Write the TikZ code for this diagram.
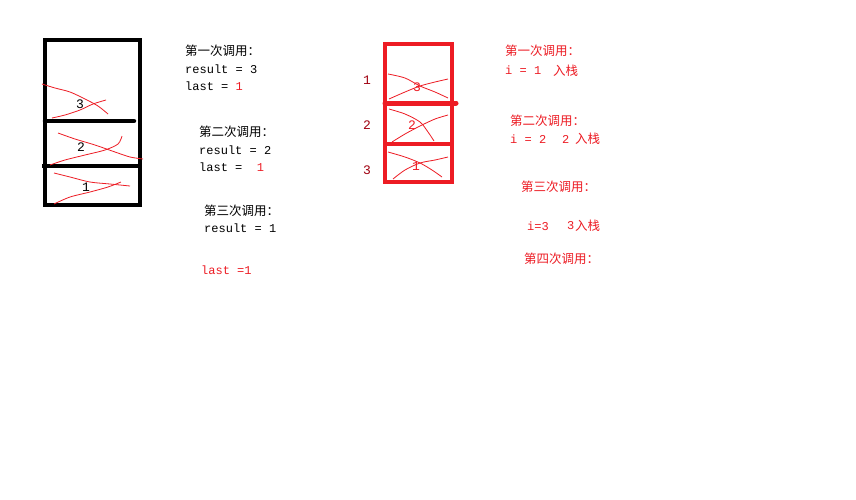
\documentclass[tikz,border=0pt]{standalone}
\usepackage{fontspec}
\setmonofont{Liberation Mono}
\newfontfamily\cjk{Noto Sans CJK SC}
\definecolor{pr}{HTML}{ED1C24}
\definecolor{dr}{HTML}{A00010}
\begin{document}
\begin{tikzpicture}[x=1pt,y=-1pt,
  tx/.style={anchor=west,inner sep=0pt,font=\fontsize{12}{12}\ttfamily},
  cx/.style={anchor=west,inner sep=0pt,font=\fontsize{12.5}{12}\cjk},
  scr/.style={draw=pr,line width=0.8pt},
  num/.style={inner sep=0pt,font=\fontsize{13}{13}\ttfamily}]
\fill[white] (0,0) rectangle (856,499);
\useasboundingbox (0,0) rectangle (856,499);

% black stack
\draw[line width=4.5pt] (45,40) rectangle (140,205);
\draw[line width=4.5pt,line cap=round] (45,121) -- (134,121);
\draw[line width=4.5pt] (42,166) -- (140,166);
\node[num] (b3) at (80,104) {3};
\node[num] (b2) at (81,147) {2};
\node[num] (b1) at (86,187) {1};
\draw[scr] plot[smooth] coordinates {(42,84) (55,88) (70,92) (85,99) (98,106) (108,114)};
\draw[scr] plot[smooth] coordinates {(52,118) (65,115) (80,110) (93,104) (106,100)};
\draw[scr] plot[smooth] coordinates {(58,133) (75,139) (95,145) (115,152) (130,157) (143,159)};
\draw[scr] plot[smooth] coordinates {(50,165) (65,160) (85,155) (105,150) (118,144) (122,136)};
\draw[scr] plot[smooth] coordinates {(54,173) (70,177) (90,182) (110,184) (130,186)};
\draw[scr] plot[smooth] coordinates {(54,204) (70,197) (90,192) (108,187) (121,182)};

% red stack
\draw[pr,line width=4.5pt] (385,44) rectangle (452,182);
\draw[pr,line width=5pt,line cap=round] (385,103) -- (456,103);
\draw[pr,line width=3.5pt] (385,144) -- (452,144);
\node[num,text=dr] (l1) at (367,80) {1};
\node[num,text=dr] (l2) at (367,125) {2};
\node[num,text=dr] (l3) at (367,170) {3};
\node[num,text=pr] (r3) at (417,87) {3};
\node[num,text=pr] (r2) at (412,125) {2};
\node[num,text=pr] (r1) at (416,166) {1};
\draw[scr] plot[smooth] coordinates {(388,74) (405,78) (420,86) (435,92) (448,98)};
\draw[scr] plot[smooth] coordinates {(389,99) (405,92) (420,86) (435,82) (448,79)};
\draw[scr] plot[smooth] coordinates {(389,109) (405,114) (420,122) (428,132) (434,141)};
\draw[scr] plot[smooth] coordinates {(392,142) (405,134) (420,126) (435,119) (448,115)};
\draw[scr] plot[smooth] coordinates {(388,152) (405,157) (420,163) (432,170) (442,177)};
\draw[scr] plot[smooth] coordinates {(393,179) (405,170) (420,163) (435,160) (448,157)};

% left texts
\node[cx] (h1) at (185,51) {第一次调用：};
\node[tx] (res3) at (185,69) {result = 3};
\node[tx] (last1) at (185,86) {last = \textcolor{pr}{1}};
\node[cx] (h2) at (199,132) {第二次调用：};
\node[tx] (res2) at (199,150) {result = 2};
\node[tx] (last2) at (199,167) {last =\ \ \textcolor{pr}{1}};
\node[cx] (h3) at (204,211) {第三次调用：};
\node[tx] (res1) at (204,228) {result = 1};
\node[tx,text=pr] (last3) at (201,270) {last =1};

% right texts
\node[cx,text=pr] (k1) at (505,51) {第一次调用：};
\node[tx,text=pr] (i1) at (505,70) {i = 1};
\node[cx,text=pr] (p1) at (553,71) {入栈};
\node[cx,text=pr] (k2) at (510,121) {第二次调用：};
\node[tx,text=pr] (i2) at (510,139) {i = 2};
\node[tx,text=pr] (n2) at (562,139) {2};
\node[cx,text=pr] (p2) at (575,139) {入栈};
\node[cx,text=pr] (k3) at (521,187) {第三次调用：};
\node[tx,text=pr] (i3) at (527,226) {i=3};
\node[tx,text=pr] (n3) at (567,226) {3};
\node[cx,text=pr] (p3) at (575,226) {入栈};
\node[cx,text=pr] (k4) at (524,259) {第四次调用：};
\end{tikzpicture}
\end{document}
